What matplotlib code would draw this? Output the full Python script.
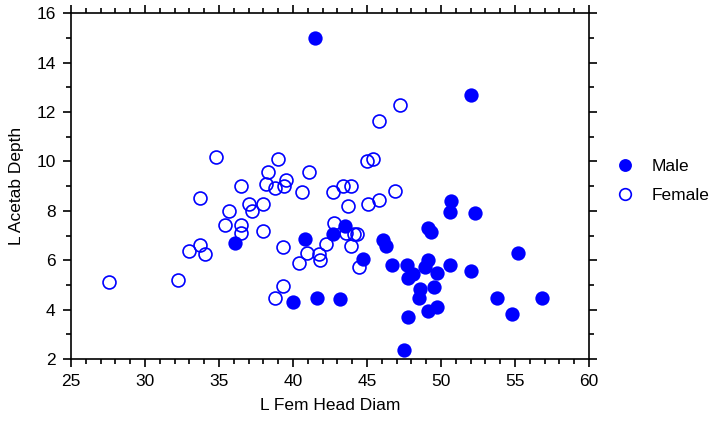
import matplotlib
matplotlib.use("Agg")
import matplotlib.pyplot as plt
from matplotlib.ticker import MultipleLocator

plt.rcParams['font.family'] = ['Liberation Sans', 'DejaVu Sans']

# Male: filled circles
male_x = [41.5, 52.0, 43.5, 40.8, 36.1, 42.7, 40.0, 41.6, 43.2, 50.7,
          50.6, 52.3, 49.1, 49.3, 46.1, 46.3, 44.75, 46.7, 47.7, 48.1,
          47.8, 49.1, 48.9, 49.7, 50.6, 52.0, 55.2, 49.5, 48.6, 48.5,
          49.7, 49.1, 47.8, 47.5, 53.8, 54.8, 56.8]
male_y = [15.0, 12.7, 7.4, 6.87, 6.7, 7.05, 4.32, 4.48, 4.42, 8.41,
          7.95, 7.91, 7.32, 7.16, 6.82, 6.58, 6.06, 5.79, 5.81, 5.43,
          5.27, 6.01, 5.71, 5.5, 5.79, 5.57, 6.3, 4.93, 4.82, 4.47,
          4.12, 3.96, 3.69, 2.36, 4.48, 3.82, 4.48]

# Female: open circles
female_x = [34.8, 39.0, 38.3, 41.05, 36.5, 38.2, 38.8, 39.5, 39.4, 40.6,
            42.7, 43.4, 43.9, 33.7, 47.2, 45.8, 45.0, 45.4, 46.9, 43.7,
            45.1, 45.8, 42.8, 37.0, 37.2, 38.0, 35.7, 35.4, 36.5, 36.5,
            37.95, 33.7, 34.05, 33.0, 39.3, 40.97, 40.4, 39.3, 38.8, 27.6,
            32.2, 43.6, 44.1, 44.35, 42.2, 41.75, 41.85, 43.9, 44.45]
female_y = [10.17, 10.1, 9.57, 9.56, 9.0, 9.07, 8.94, 9.25, 9.0, 8.77,
            8.77, 9.0, 9.0, 8.5, 12.27, 11.63, 10.0, 10.08, 8.79, 8.2,
            8.26, 8.42, 7.5, 8.29, 8.0, 8.26, 7.98, 7.43, 7.44, 7.12,
            7.2, 6.62, 6.24, 6.38, 6.52, 6.29, 5.87, 4.94, 4.48, 5.13,
            5.2, 7.09, 7.05, 7.05, 6.66, 6.27, 6.01, 6.58, 5.71]

fig = plt.figure(figsize=(7.15, 4.22), dpi=100)
ax = fig.add_axes([0.0993, 0.1493, 0.7245, 0.8192])

ax.plot(male_x, male_y, 'o', color='#0000ff', markersize=10.3, markeredgewidth=0,
        label='Male', clip_on=False)
ax.plot(female_x, female_y, 'o', markerfacecolor='none', markeredgecolor='#0000ff',
        markersize=9.3, markeredgewidth=1.2, label='Female', clip_on=False)

ax.set_xlim(25, 60)
ax.set_ylim(2, 16)
ax.xaxis.set_major_locator(MultipleLocator(5))
ax.xaxis.set_minor_locator(MultipleLocator(1))
ax.yaxis.set_major_locator(MultipleLocator(2))
ax.yaxis.set_minor_locator(MultipleLocator(1))
ax.tick_params(which='both', direction='out', top=True, right=True,
               width=1.2, labelsize=12.5)
ax.tick_params(which='major', length=6, pad=5)
ax.tick_params(which='minor', length=3.5)
for s in ax.spines.values():
    s.set_linewidth(1.2)

ax.set_xlabel('L Fem Head Diam', fontsize=12.5, labelpad=6)
ax.set_ylabel('L Acetab Depth', fontsize=12.5, labelpad=9)

ax.legend(loc='center left', bbox_to_anchor=(1.02, 0.515), frameon=False,
          fontsize=12.5, handletextpad=0.5, labelspacing=0.85, borderpad=0,
          markerscale=0.9)

fig.savefig('out.png', dpi=100)
